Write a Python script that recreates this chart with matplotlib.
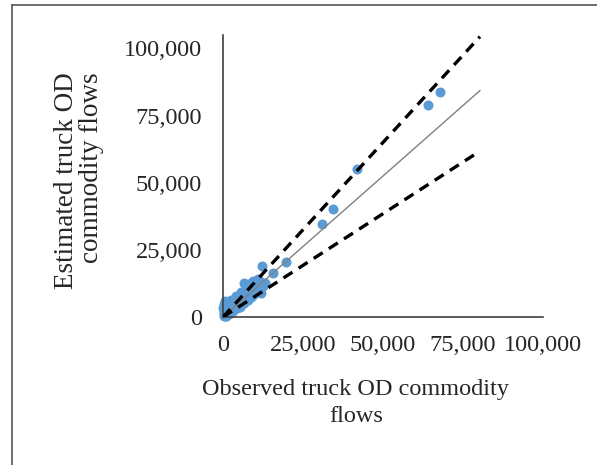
import matplotlib.pyplot as plt
from matplotlib.lines import Line2D
from matplotlib.ticker import FuncFormatter

# observed vs estimated truck OD commodity flows
observed = [67800, 64000, 41800, 34400, 30900, 19700, 12100, 6500, 11000,
            200, 500, 800, 1000, 1200, 300, 100, 400, 600, 1500, 1800, 2000,
            2200, 2500, 2800, 3000, 3200, 3500, 3800, 4000, 4300, 4600, 5000,
            5200, 5500, 5800, 6000, 6300, 6800, 7000, 7300, 7600, 8000, 8300,
            8600, 9000, 9400, 9800, 10200, 10600, 11500, 12000, 12500, 13000,
            1000, 1600, 2400, 900, 3600, 4800, 5400, 6600, 7800, 2000, 300,
            700, 15500, 9500, 1300, 2600, 4100, 5600, 7100, 8700, 10800,
            3300, 4500, 600, 1900, 9200, 11800]
estimated = [83700, 79100, 55200, 40300, 34700, 20500, 19000, 12700, 11600,
             300, 800, 400, 1500, 2500, 2000, 3500, 4800, 3000, 1000, 2000, 3200,
             4500, 1800, 3000, 5500, 2400, 4000, 6000, 3200, 5000, 6800, 4200,
             6000, 7500, 5000, 8200, 6500, 7800, 5800, 9000, 7000, 8500, 10000,
             7500, 9500, 11000, 8500, 10500, 12000, 10000, 13000, 11500, 12500,
             500, 2800, 2400, 5500, 4800, 5500, 3800, 5200, 6200, 1200, 1000,
             6000, 16500, 13500, 4000, 6200, 7800, 9200, 10800, 12800, 14000,
             3600, 3500, 1800, 5200, 8000, 9000]

line_x = [0, 80300]
lower_end = 79000
fit_slope = 1.05
upper_slope = 1.3
lower_slope = 1 / 1.3

x_ticks = [0, 25000, 50000, 75000, 100000]
y_ticks = [0, 25000, 50000, 75000, 100000]

plt.rcParams['font.family'] = ['Liberation Serif', 'DejaVu Serif']

fig = plt.figure(figsize=(5.97, 4.65), dpi=100)
ax = fig.add_axes([223 / 597, 1 - 317 / 465, 320 / 597, 282 / 465])

ax.scatter(observed, estimated, s=52, color='#5B9BD5', linewidths=0, zorder=2, clip_on=False)
ax.plot(line_x, [fit_slope * v for v in line_x], color='#808080', lw=1.0, zorder=3)
ax.plot(line_x, [upper_slope * v for v in line_x], color='black', lw=2.4,
        dashes=(3.2, 2.2), zorder=3)
ax.plot([0, lower_end], [0, lower_slope * lower_end], color='black', lw=2.4,
        dashes=(3.2, 2.2), zorder=3)

ax.set_xlim(0, 100000)
ax.set_ylim(0, 105000)
ax.set_xticks(x_ticks)
ax.set_yticks(y_ticks)
fmt = FuncFormatter(lambda v, p: f'{int(v):,}')
ax.xaxis.set_major_formatter(fmt)
ax.yaxis.set_major_formatter(fmt)
ax.tick_params(axis='both', length=0, labelsize=17.5, colors='#262626')
ax.tick_params(axis='y', pad=15)
ax.tick_params(axis='x', pad=13)
for s in ['top', 'right']:
    ax.spines[s].set_visible(False)
for s in ['left', 'bottom']:
    ax.spines[s].set_color('#404040')
    ax.spines[s].set_linewidth(1.2)

fig.text(356 / 597, 1 - 403 / 465, 'Observed truck OD commodity\nflows',
         ha='center', va='center', fontsize=17.5, linespacing=1.35, color='#262626')
fig.text(79 / 597, 1 - 181 / 465, 'Estimated truck OD\ncommodity flows',
         ha='center', va='center', rotation=90, multialignment='right',
         fontsize=19.5, linespacing=1.05, color='#262626')

# outer frame (only left and top edges visible)
fig.add_artist(Line2D([12 / 597, 12 / 597], [0, 1 - 5 / 465], transform=fig.transFigure,
                      color='#555555', lw=1.2))
fig.add_artist(Line2D([12 / 597, 1], [1 - 5 / 465, 1 - 5 / 465], transform=fig.transFigure,
                      color='#555555', lw=1.2))

fig.savefig('out.png', dpi=100)
